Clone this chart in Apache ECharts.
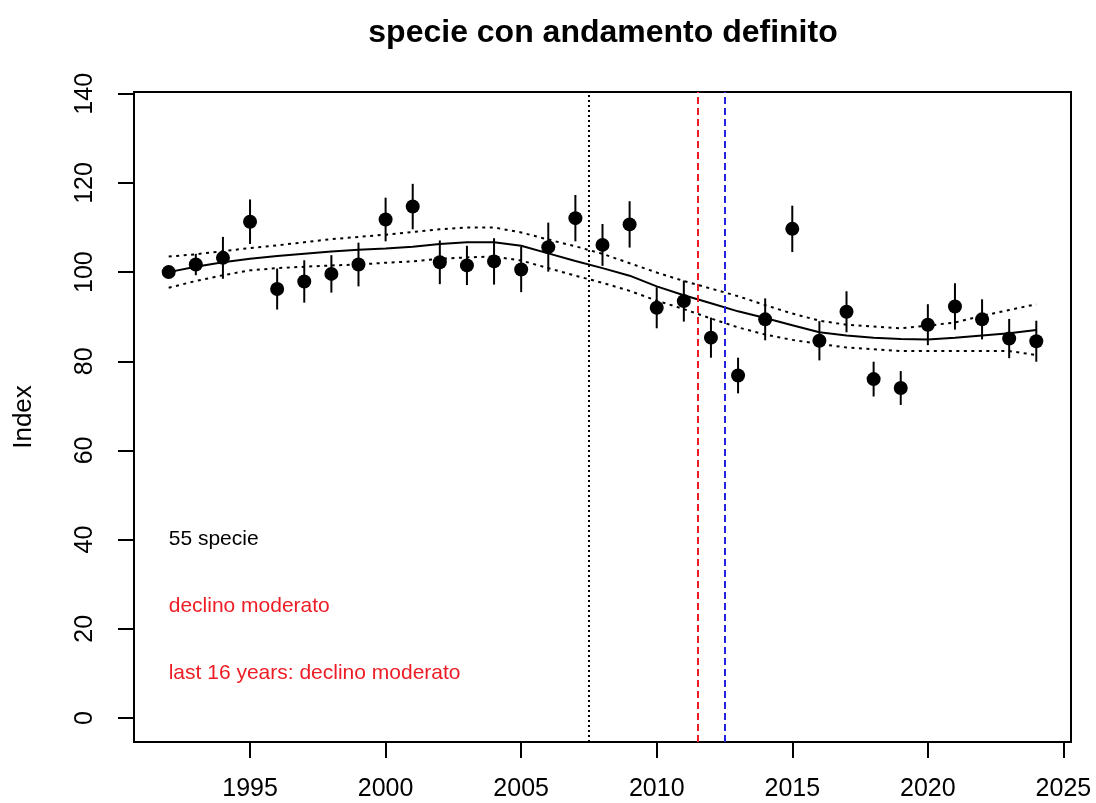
<!DOCTYPE html>
<html>
<head>
<meta charset="utf-8">
<script src="https://cdn.jsdelivr.net/npm/echarts@6/dist/echarts.min.js"></script>
<style>
  html, body { margin: 0; padding: 0; background: #fff; }
  #chart { width: 1096px; height: 803px; }
</style>
</head>
<body>
<div id="chart"></div>
<script>
// Yearly index of the species group (base year 1992 = 100)
const years = [1992, 1993, 1994, 1995, 1996, 1997, 1998, 1999, 2000, 2001, 2002,
  2003, 2004, 2005, 2006, 2007, 2008, 2009, 2010, 2011, 2012, 2013,
  2014, 2015, 2016, 2017, 2018, 2019, 2020, 2021, 2022, 2023, 2024];
const indexValues = [100.0, 101.7, 103.2, 111.3, 96.2, 97.9, 99.6, 101.7, 111.8, 114.7, 102.2,
  101.5, 102.4, 100.6, 105.6, 112.1, 106.1, 110.7, 92.0, 93.5, 85.3, 76.8,
  89.4, 109.7, 84.6, 91.1, 76.0, 74.0, 88.2, 92.3, 89.4, 85.1, 84.5];
// Half-width of the error bar around each yearly index
const indexErr = [0, 2.4, 4.7, 5.0, 4.6, 4.75, 4.2, 4.9, 4.9, 5.1, 4.9,
  4.4, 5.2, 5.1, 5.5, 5.2, 4.7, 5.2, 4.6, 4.6, 4.5, 4.0,
  4.7, 5.2, 4.4, 4.6, 3.9, 3.8, 4.6, 5.2, 4.5, 4.4, 4.6];
// Smoothed trend with its confidence band
const trend = [100.0, 101.2, 102.2, 103.0, 103.6, 104.1, 104.6, 105.0, 105.3, 105.7, 106.3,
  106.7, 106.7, 105.9, 104.2, 102.5, 100.9, 99.2, 96.8, 94.8, 93.0, 91.2,
  89.7, 88.1, 86.5, 85.8, 85.3, 85.0, 84.9, 85.3, 85.8, 86.3, 87.0];
const trendUpper = [103.5, 104.0, 104.7, 105.4, 106.0, 106.7, 107.4, 107.9, 108.4, 109.0, 109.6,
  110.0, 110.0, 108.9, 107.3, 105.8, 104.1, 102.0, 99.9, 98.0, 96.3, 94.6,
  92.6, 90.7, 89.1, 88.2, 87.8, 87.4, 88.0, 88.7, 90.2, 91.5, 92.8];
const trendLower = [96.5, 98.0, 99.3, 100.4, 100.9, 101.2, 101.5, 101.7, 102.1, 102.4, 103.0,
  103.3, 103.5, 102.6, 100.9, 99.2, 97.6, 95.8, 93.6, 91.7, 89.6, 87.6,
  86.0, 84.8, 83.9, 83.1, 82.7, 82.3, 82.3, 82.3, 82.3, 82.3, 81.4];
// Reference years drawn as vertical lines
const refYears = [2007.5, 2011.5, 2012.5];
// Axis ticks
const xTicks = [1995, 2000, 2005, 2010, 2015, 2020, 2025];
const yTicks = [0, 20, 40, 60, 80, 100, 120, 140];
// Notes written inside the plot
const notes = [
  { x: 1992, y: 40, text: '55 specie', color: '#000000' },
  { x: 1992, y: 25, text: 'declino moderato', color: '#ee1c24' },
  { x: 1992, y: 10, text: 'last 16 years: declino moderato', color: '#ee1c24' }
];

const pair = (arr) => years.map((y, i) => [y, arr[i]]);
const FONT = '"Liberation Sans", Arial, sans-serif';

const chart = echarts.init(document.getElementById('chart'), null, { renderer: 'canvas' });

chart.setOption({
  animation: false,
  backgroundColor: '#ffffff',
  title: {
    text: 'specie con andamento definito',
    left: 598,
    textAlign: 'center',
    top: 12,
    textStyle: { fontFamily: FONT, fontWeight: 'bold', fontSize: 32, color: '#000' }
  },
  grid: {
    left: 134, right: 25, top: 92, bottom: 61,
    show: true, borderColor: '#000', borderWidth: 2, backgroundColor: 'transparent'
  },
  xAxis: {
    type: 'value',
    min: 1990.72, max: 2025.28,
    position: 'bottom',
    axisLine: { show: false, onZero: false },
    splitLine: { show: false },
    axisTick: { show: true, inside: false, length: 16, lineStyle: { color: '#000', width: 2 }, customValues: xTicks },
    axisLabel: { show: true, margin: 35, fontFamily: FONT, fontSize: 25, color: '#000', customValues: xTicks,
      formatter: (v) => String(v) }
  },
  yAxis: {
    type: 'value',
    min: -5.4, max: 140.4,
    position: 'left',
    name: 'Index',
    nameLocation: 'middle',
    nameRotate: 90,
    nameGap: 97,
    nameTextStyle: { fontFamily: FONT, fontSize: 26, color: '#000' },
    axisLine: { show: false, onZero: false },
    splitLine: { show: false },
    axisTick: { show: true, inside: false, length: 16, lineStyle: { color: '#000', width: 2 }, customValues: yTicks },
    axisLabel: { show: true, rotate: 90, margin: 36, fontFamily: FONT, fontSize: 25, color: '#000', customValues: yTicks,
      formatter: (v) => String(v) }
  },
  series: [
    {
      name: 'upper', type: 'line', data: pair(trendUpper), symbol: 'none', silent: true,
      lineStyle: { color: '#000', width: 2, type: [3, 4.5] }
    },
    {
      name: 'lower', type: 'line', data: pair(trendLower), symbol: 'none', silent: true,
      lineStyle: { color: '#000', width: 2, type: [3, 4.5] }
    },
    {
      name: 'trend', type: 'line', data: pair(trend), symbol: 'none', silent: true,
      lineStyle: { color: '#000', width: 2 },
      markLine: {
        silent: true, symbol: 'none', label: { show: false },
        data: [
          { xAxis: refYears[0], lineStyle: { color: '#000', width: 2, type: [2, 3] } },
          { xAxis: refYears[1], lineStyle: { color: '#ee1c24', width: 2, type: [7, 4] } },
          { xAxis: refYears[2], lineStyle: { color: '#2323e0', width: 2, type: [7, 4] } }
        ]
      }
    },
    {
      name: 'errorbars', type: 'custom', silent: true,
      data: years.map((y, i) => [y, indexValues[i] - indexErr[i], indexValues[i] + indexErr[i]]),
      renderItem: (params, api) => {
        const lo = api.coord([api.value(0), api.value(1)]);
        const hi = api.coord([api.value(0), api.value(2)]);
        return {
          type: 'line',
          shape: { x1: lo[0], y1: lo[1], x2: hi[0], y2: hi[1] },
          style: { stroke: '#000', lineWidth: 2 }
        };
      },
      z: 3
    },
    {
      name: 'index', type: 'scatter', data: pair(indexValues), symbol: 'circle', symbolSize: 14,
      itemStyle: { color: '#000', opacity: 1 }, silent: true, z: 4
    },
    {
      name: 'notes', type: 'custom', silent: true,
      data: notes.map((n) => [n.x, n.y]),
      renderItem: (params, api) => {
        const p = api.coord([api.value(0), api.value(1)]);
        const n = notes[params.dataIndex];
        return {
          type: 'text',
          x: p[0], y: p[1],
          style: { text: n.text, fill: n.color, font: '21px ' + FONT, textAlign: 'left', textVerticalAlign: 'middle' }
        };
      },
      z: 5
    }
  ]
});
</script>
</body>
</html>
